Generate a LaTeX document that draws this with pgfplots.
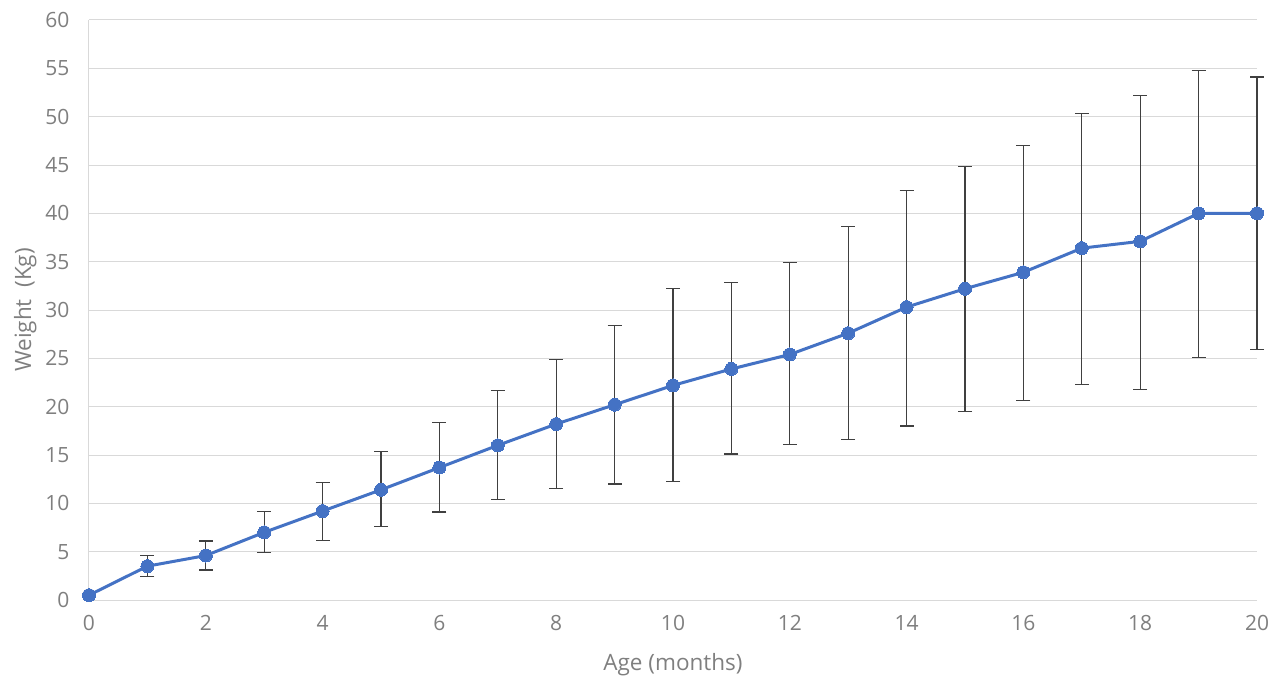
\documentclass[border=0pt]{standalone}
\usepackage{pgfplots}
\pgfplotsset{compat=1.18}
\usepackage{pgfplotstable}
\usepackage{fontspec}
\setmainfont{Open Sans}
\definecolor{exblue}{HTML}{4472C4}
\definecolor{txtgray}{HTML}{7F7F7F}
\definecolor{gridgray}{HTML}{D9D9D9}
\definecolor{errgray}{HTML}{404040}
\pgfplotstableread{
x y ep em
0 0.5 0 0
1 3.5 1.1 1.1
2 4.6 1.5 1.5
3 7.0 2.2 2.1
4 9.2 3.0 3.0
5 11.4 4.0 3.8
6 13.7 4.7 4.6
7 16.0 5.7 5.6
8 18.2 6.7 6.7
9 20.2 8.2 8.2
10 22.2 10.0 9.9
11 23.9 8.9 8.8
12 25.4 9.5 9.3
13 27.6 11.0 11.0
14 30.3 12.1 12.3
15 32.2 12.6 12.7
16 33.9 13.1 13.3
17 36.4 13.9 14.1
18 37.1 15.1 15.3
19 40.0 14.8 14.9
20 40.0 14.1 14.1
}\data
\begin{document}
\begin{tikzpicture}
\begin{axis}[
  scale only axis,
  width=1168pt, height=580pt,
  xmin=0, xmax=20, ymin=0, ymax=60,
  xtick={0,2,...,20}, ytick={0,5,...,60},
  axis x line*=bottom, axis y line*=left,
  axis line style={draw=gridgray, line width=1pt},
  every outer x axis line/.append style={-},
  every outer y axis line/.append style={-},
  major tick length=0pt,
  ymajorgrids,
  grid style={draw=gridgray, line width=1pt},
  tick label style={font=\fontsize{21}{24}\selectfont, text=txtgray},
  /pgf/number format/assume math mode=true,
  xticklabel style={yshift=-12pt},
  yticklabel style={xshift=-16pt},
  xlabel={Age (months)}, ylabel={Weight\ \ (Kg)},
  label style={font=\fontsize{22.5}{26}\selectfont, text=txtgray},
  xlabel style={yshift=-16pt},
  ylabel style={yshift=2pt},
  clip=false,
]
\addplot[only marks, mark=none, forget plot,
  error bars/.cd, y dir=both, y explicit,
  error bar style={draw=errgray, line width=1.1pt},
  error mark options={rotate=90, draw=errgray, line width=1.1pt, mark size=7pt}]
  table[x=x, y=y, y error plus=ep, y error minus=em] {\data};
\addplot[exblue, line width=3pt, mark=*, mark size=6.5pt,
  mark options={fill=exblue, draw=exblue, line width=0pt}]
  table[x=x, y=y] {\data};
\end{axis}
\pgfresetboundingbox
\path[use as bounding box] (-89pt,-75pt) rectangle (1193pt,600pt);
\end{tikzpicture}
\end{document}
